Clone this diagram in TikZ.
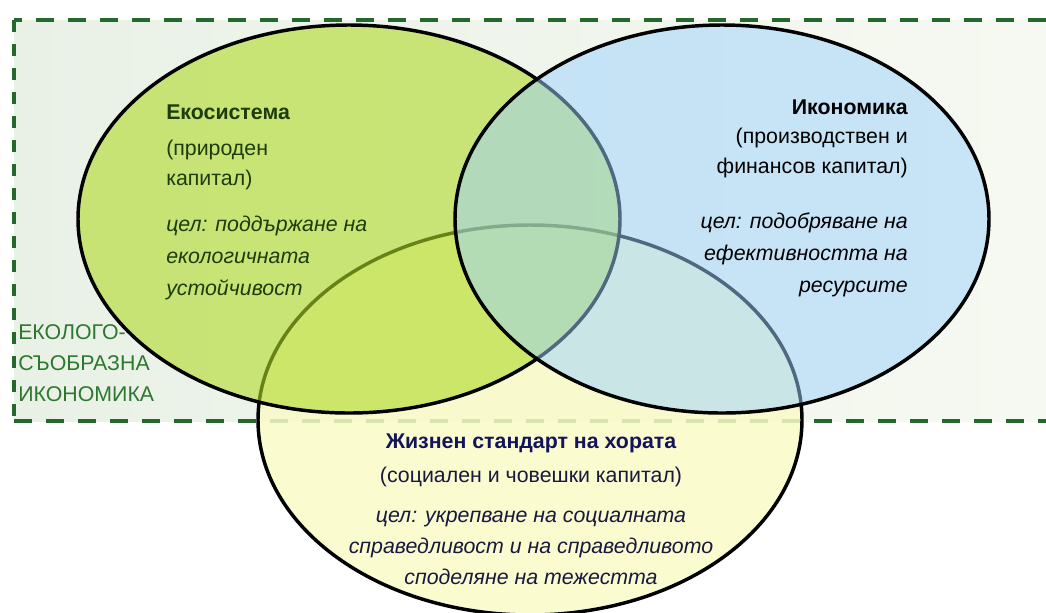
\documentclass[tikz,border=0pt]{standalone}
\usepackage{fontspec}
\setmainfont{Liberation Sans}
\usepackage{xcolor}
\definecolor{zoneleft}{RGB}{233,241,231}
\definecolor{zoneright}{RGB}{246,249,241}
\definecolor{zonedash}{RGB}{35,105,45}
\definecolor{zonetext}{RGB}{45,120,45}
\definecolor{ecofill}{RGB}{176,218,40}
\definecolor{econfill}{RGB}{156,210,255}
\definecolor{lifefill}{RGB}{250,250,200}
\definecolor{ecotext}{RGB}{28,60,10}
\definecolor{lifetitle}{RGB}{20,20,90}
\definecolor{lifetext}{RGB}{25,25,60}

\begin{document}
\begin{tikzpicture}[x=0.75pt,y=-0.75pt,
    circ/.style={draw=black,line width=2.6pt},
    zone/.style={zonedash,line width=2.6pt},
    txt/.style={inner sep=0pt,font=\fontsize{16}{23}\selectfont},
    ttl/.style={inner sep=0pt,font=\fontsize{16}{23}\selectfont\bfseries}]
\useasboundingbox (0,0) rectangle (1046,612);

% Zone
\shade[left color=zoneleft,right color=zoneright] (14,20) rectangle (1046,421);
\draw[zone,dash pattern=on 13.5pt off 10.5pt] (1046,20) -- (14,20);
\draw[zone,dash pattern=on 13.5pt off 10.5pt] (14,421) -- (1046,421);
\draw[zone,dash pattern=on 9pt off 9pt] (14,20) -- (14,421);

% Circles
\filldraw[circ,fill=lifefill,fill opacity=0.85] (530,420) ellipse [x radius=272,y radius=195];
\filldraw[circ,fill=ecofill,fill opacity=0.6] (349,219) ellipse [x radius=271,y radius=194];
\filldraw[circ,fill=econfill,fill opacity=0.5] (722,219) ellipse [x radius=267,y radius=194];

% Ecosystem
\node[ttl,ecotext,anchor=west] (ecotitle) at (166,112) {Екосистема};
\node[txt,ecotext,anchor=west,align=left] (ecocap) at (166,165) {(природен\\капитал)};
\node[txt,ecotext,anchor=west,align=left,font=\fontsize{16}{24}\selectfont\itshape] (ecogoal) at (166,258)
    {цел: поддържане на\\екологичната\\устойчивост};

% Economy
\node[ttl,anchor=east] (econtitle) at (908,107) {Икономика};
\node[txt,anchor=east,align=right] (econcap) at (908,153) {(производствен и\\финансов капитал)};
\node[txt,anchor=east,align=right,font=\fontsize{16}{24}\selectfont\itshape] (econgoal) at (908,255)
    {цел: подобряване на\\ефективността на\\ресурсите};

% Living standard
\node[ttl,lifetitle] (lifetitle) at (531,443) {Жизнен стандарт на хората};
\node[txt,lifetext] (lifecap) at (531,477) {(социален и човешки капитал)};
\node[txt,lifetext,align=center,font=\fontsize{16}{23.5}\selectfont\itshape] (lifegoal) at (531,548)
    {цел: укрепване на социалната\\справедливост и на справедливото\\споделяне на тежестта};

% Zone label
\node[txt,zonetext,anchor=west,align=left] (zonelabel) at (18,363) {ЕКОЛОГО-\\СЪОБРАЗНА\\ИКОНОМИКА};
\end{tikzpicture}
\end{document}
